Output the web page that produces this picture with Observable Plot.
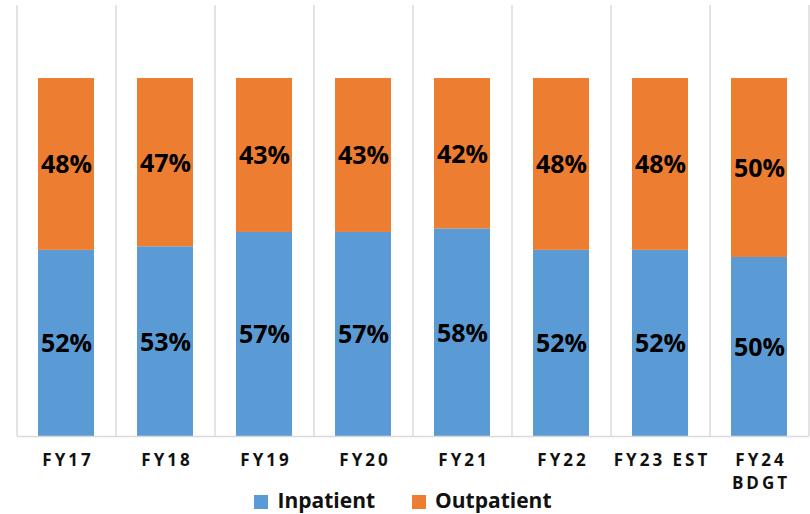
<!DOCTYPE html>
<html>
<head>
<meta charset="utf-8">
<script src="https://cdn.jsdelivr.net/npm/d3@7"></script>
<script src="https://cdn.jsdelivr.net/npm/@observablehq/plot@0.6"></script>
<style>
  body { margin: 0; background: #fff; font-family: "Open Sans", sans-serif; }
  #chart { width: 810px; }
  #chart g[aria-label="x-axis tick label"] { font-size: 17px; font-weight: bold; }
  #chart g[aria-label="x-axis tick label"] text { letter-spacing: 3px; }
  .legend { display: flex; justify-content: center; align-items: center; height: 28px; margin-top: -8px;
            font: bold 21px "Open Sans", sans-serif; color: #111; position: relative; padding-right: 4px; }
  .legend .item { display: flex; align-items: center; }
  .legend .item + .item { margin-left: 37px; }
  .legend .sw { width: 14px; height: 14px; margin-right: 9px; margin-top: 3px; }
</style>
</head>
<body>
<div id="chart"></div>
<script>
const categories = ["FY17", "FY18", "FY19", "FY20", "FY21", "FY22", "FY23 EST", "FY24 BDGT"];
const tickLabels = ["FY17", "FY18", "FY19", "FY20", "FY21", "FY22", "FY23 EST", "FY24\nBDGT"];
const inpatient  = [52, 53, 57, 57, 58, 52, 52, 50];
const outpatient = [48, 47, 43, 43, 42, 48, 48, 50];
const seriesNames = ["Inpatient", "Outpatient"];
const seriesColors = ["#5B9BD5", "#ED7D31"];

const rows = categories.flatMap((c, i) => [
  {cat: c, series: seriesNames[0], value: inpatient[i]},
  {cat: c, series: seriesNames[1], value: outpatient[i]}
]);

const W = 810, H = 494, ML = 17, MR = 1, MT = 5, MB = 58;
const step = (W - ML - MR) / categories.length;
const labelOf = new Map(categories.map((c, i) => [c, tickLabels[i]]));

const chart = Plot.plot({
  width: W, height: H,
  marginLeft: ML, marginRight: MR, marginTop: MT, marginBottom: MB,
  style: {fontFamily: "'Open Sans', sans-serif", background: "#fff", overflow: "visible"},
  x: {domain: categories, paddingInner: 0.43, paddingOuter: 0.215, label: null},
  y: {domain: [0, 120.4], axis: null},
  color: {domain: seriesNames, range: seriesColors},
  marks: [
    Plot.ruleX(categories, {x: d => d, dx: -step / 2, stroke: "#d9d9d9", strokeWidth: 1.4}),
    Plot.ruleX(categories.slice(-1), {x: d => d, dx: step / 2, stroke: "#d9d9d9", strokeWidth: 1.4}),
    Plot.barY(rows, Plot.stackY({x: "cat", y: "value", fill: "series", order: seriesNames})),
    Plot.ruleY([0], {stroke: "#d9d9d9", strokeWidth: 1.6}),
    Plot.text(rows, Plot.stackY({x: "cat", y: "value", z: "series", order: seriesNames,
      text: d => d.value + "%", fill: "#000", fontSize: 25, fontWeight: "bold", dy: 1})),
    Plot.axisX({tickSize: 0, tickPadding: 13, tickFormat: d => labelOf.get(d), fontSize: 17,
      fontWeight: "bold", fill: "#111", lineHeight: 1.35, dx: 1.5, label: null})
  ]
});
document.getElementById("chart").appendChild(chart);

const legend = document.createElement("div");
legend.className = "legend";
seriesNames.forEach((name, i) => {
  const item = document.createElement("div");
  item.className = "item";
  const sw = document.createElement("span");
  sw.className = "sw";
  sw.style.background = seriesColors[i];
  const label = document.createElement("span");
  label.textContent = name;
  item.appendChild(sw);
  item.appendChild(label);
  legend.appendChild(item);
});
document.body.appendChild(legend);
</script>
</body>
</html>
